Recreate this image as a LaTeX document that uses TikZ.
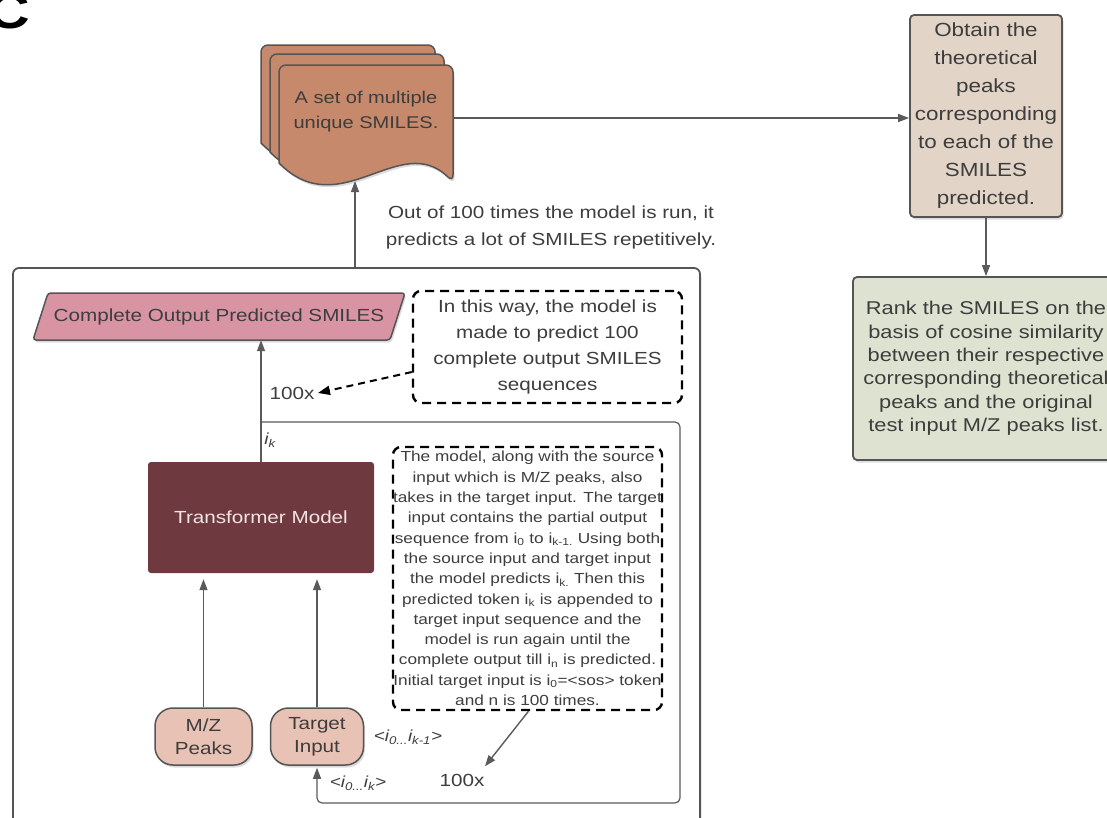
\documentclass[tikz,border=0pt]{standalone}
\usepackage{fontspec}
\setmainfont[FakeStretch=1.18]{Liberation Sans}
\usetikzlibrary{arrows.meta,shadows}
\definecolor{txt}{HTML}{3D3D3D}
\definecolor{bord}{HTML}{555555}
\definecolor{linec}{HTML}{5A5A5A}
\definecolor{docc}{HTML}{C6896C}
\definecolor{boxA}{HTML}{E2D5C8}
\definecolor{boxB}{HTML}{DDE2D1}
\definecolor{pinkc}{HTML}{D994A4}
\definecolor{tmc}{HTML}{6E3A40}
\definecolor{tmtext}{HTML}{F2E4E4}
\definecolor{pillc}{HTML}{E8C2B4}
\newcommand\fs[2]{\fontsize{#1}{#2}\selectfont}
\tikzset{
  arr/.style={draw=linec, line width=1.4pt, -{Triangle[length=11pt,width=8pt]}},
  shad/.style={drop shadow={opacity=0.28, shadow xshift=1.5pt, shadow yshift=-2.5pt}},
  boxs/.style={draw=bord, line width=1.8pt, rounded corners=4pt, shad, text=txt, align=center},
  dashbox/.style={draw=black, line width=2.4pt, dash pattern=on 9pt off 6pt, rounded corners=8pt, text=txt, align=center},
  dasharr/.style={draw=black, line width=2pt, dash pattern=on 7pt off 5pt, -{Triangle[length=12pt,width=9pt]}},
  pill/.style={draw=bord, line width=1.5pt, fill=pillc, rounded corners=18pt, shad, text=txt, align=center, minimum height=57pt, font=\fs{17.5}{23}},
  docs/.style={draw=bord, line width=1.5pt, fill=docc, shad},
  lbl/.style={text=txt, font=\fs{17.5}{27}, align=center}
}
\begin{document}
\begin{tikzpicture}[x=1pt,y=-1pt]
\useasboundingbox (0,0) rectangle (1107,817);

% panel letter
\node[anchor=south east, inner sep=0, font=\fs{50}{50}\bfseries, text=black] (letter) at (30,29) {C};

% stacked documents
\foreach \dx/\dy in {-18/-20,-9/-11,0/0}{
  \begin{scope}[shift={(\dx,\dy)}]
    \draw[docs] (279,163) [rounded corners=7pt] -- (279,65) -- (453,65) -- (453,182) [sharp corners]
      .. controls (400,130) and (340,225) .. (279,163) -- cycle;
  \end{scope}
}
\node[text=txt, font=\fs{17}{25}, align=center] (docn) at (366,112) {A set of multiple\\unique SMILES.};
\coordinate (docR) at (453,118);
\coordinate (docB) at (355,181);

% right boxes
\node[boxs, fill=boxA, minimum width=152pt, minimum height=202pt, font=\fs{19}{28}] (b1) at (986,116)
  {Obtain the\\theoretical\\peaks\\corresponding\\to each of the\\SMILES\\predicted.};
\node[boxs, fill=boxB, minimum width=266pt, minimum height=183pt, font=\fs{18.5}{23.4}] (b2) at (986,368.5)
  {Rank the SMILES on the\\basis of cosine similarity\\between their respective\\corresponding theoretical\\peaks and the original\\test input M/Z peaks list.};
\draw[arr] (docR) -- (docR -| b1.west);
\draw[arr] (b1.south) -- (b2.north);

\node[lbl] (outtxt) at (551,227) {Out of 100 times the model is run, it\\predicts a lot of SMILES repetitively.};

% outer box
\node[draw=bord, line width=1.8pt, rounded corners=6pt, fill=white, shad, minimum width=687pt, minimum height=570pt] (outer) at (356.5,553) {};
\draw[arr] (docB |- outer.north) -- (docB);

% complete output parallelogram
\draw[fill=pinkc, draw=bord, line width=1.5pt, rounded corners=3pt, shad] (48,293) -- (405,293) -- (390,340) -- (33,340) -- cycle;
\node[text=txt, font=\fs{17.5}{21}, minimum height=47pt, inner sep=0] (cops) at (219,316.5) {Complete Output Predicted SMILES};

% dashed note 1
\node[dashbox, minimum width=269pt, minimum height=112pt, font=\fs{17.5}{26}] (d1) at (547.5,347)
  {In this way, the model is\\made to predict 100\\complete output SMILES\\sequences};
\node[lbl] (hx) at (292,393) {100x};
\draw[dasharr] ([yshift=-25pt]d1.west) -- (hx.east);

% transformer
\node[fill=tmc, rounded corners=3pt, minimum width=226pt, minimum height=111pt, text=tmtext, font=\fs{17.5}{21}] (tm) at (261,517.5) {Transformer Model};
\draw[arr] (tm.north) -- (tm.north |- cops.south);

% inputs
\node[pill, minimum width=97pt] (mz) at (203.5,736.5) {M/Z\\Peaks};
\node[pill, minimum width=93pt] (ti) at (317,736.5) {Target\\Input};
\draw[arr, shorten >=6pt] (mz.north) -- (mz.north |- tm.south);
\draw[arr, shorten >=6pt] (ti.north) -- (ti.north |- tm.south);

% loop
\coordinate (lp) at (261,422);
\coordinate (ltr) at (680,422);
\coordinate (lbr) at (680,803);
\coordinate (lbl) at (317,803);
\draw[draw=linec, line width=1.2pt, rounded corners=5pt, -{Triangle[length=11pt,width=8pt]}, shorten >=2pt] (lp) -- (ltr) -- (lbr) -- (ti.south |- lbl) -- (ti.south);

\node[text=txt, font=\fs{16}{18}\itshape] (ikl) at (270,440) {i\textsubscript{k}};
\node[text=txt, font=\fs{16}{18}\itshape] (lab1) at (408,737) {<i\textsubscript{0...}i\textsubscript{k-1}>};
\node[text=txt, font=\fs{16}{18}\itshape] (lab2) at (358,783) {<i\textsubscript{0...}i\textsubscript{k}>};

% dashed note 2
\node[dashbox, minimum width=269pt, minimum height=263pt, inner sep=0pt, font=\fs{14.6}{20.3}] (d2) at (527.5,578.5)
  {The model, along with the source\\
   input which is M/Z peaks, also\\
   takes in the target input. The target\\
   input contains the partial output\\
   sequence from i\textsubscript{0} to i\textsubscript{k-1.} Using both\\
   the source input and target input\\
   the model predicts i\textsubscript{k.} Then this\\
   predicted token i\textsubscript{k} is appended to\\
   target input sequence and the\\
   model is run again until the\\
   complete output till i\textsubscript{n} is predicted.\\
   Initial target input is i\textsubscript{0}=<sos> token\\
   and n is 100 times.};
\node[lbl] (hx2) at (462,780) {100x};
\draw[arr] ([xshift=1pt]d2.south) -- ([xshift=23pt,yshift=4pt]hx2.north);
\end{tikzpicture}
\end{document}
